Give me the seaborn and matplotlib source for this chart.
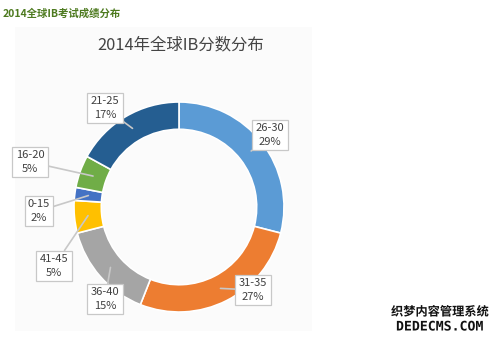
import numpy as np
import matplotlib
matplotlib.use("Agg")
import matplotlib.pyplot as plt
import matplotlib.patheffects as pe
import seaborn as sns

# ---- data ----
categories = ["26-30", "31-35", "36-40", "41-45", "0-15", "16-20", "21-25"]
percents = [29, 27, 15, 5, 2, 5, 17]
colors = ["#5B9BD5", "#ED7D31", "#A5A5A5", "#FFC000", "#4472C4", "#70AD47", "#255E91"]
page_title = "2014全球IB考试成绩分布"
chart_title = "2014年全球IB分数分布"

sns.set_theme(style="white")
plt.rcParams["font.family"] = ["Noto Sans CJK SC", "DejaVu Sans"]

W, H = 500, 338
fig = plt.figure(figsize=(W / 100, H / 100), dpi=100)
fig.patch.set_facecolor("white")

# overlay axes in pixel coordinates
ov = fig.add_axes([0, 0, 1, 1])
ov.set_xlim(0, W)
ov.set_ylim(H, 0)
ov.axis("off")
ov.add_patch(plt.Rectangle((15, 27), 297, 304, facecolor="#fbfbfb", edgecolor="none", zorder=0))

# pie axes
cx, cy, R = 179, 207, 105
pax = fig.add_axes([(cx - R) / W, (H - cy - R) / H, 2 * R / W, 2 * R / H])
wedges, _ = pax.pie(percents, colors=sns.color_palette(colors), startangle=90, counterclock=False,
                    radius=1, wedgeprops=dict(width=0.26, edgecolor="white", linewidth=1.2))
pax.set_xlim(-1, 1)
pax.set_ylim(-1, 1)
pax.axis("off")

# label box centers (pixels)
label_pos = [(270, 135), (253, 290), (105, 299), (54, 266), (39, 211), (30, 162), (105, 108)]
for w, cat, p, (lx, ly) in zip(wedges, categories, percents, label_pos):
    ang = np.deg2rad((w.theta1 + w.theta2) / 2)
    ax_, ay_ = 0.87 * np.cos(ang), 0.87 * np.sin(ang)
    pax.annotate(f"{cat}\n{p}%", xy=(ax_, ay_), xycoords="data",
                 xytext=(lx, ly), textcoords=ov.transData,
                 ha="center", va="center", fontsize=8, color="#404040", linespacing=1.45,
                 bbox=dict(boxstyle="square,pad=0.3", facecolor="white", edgecolor="#c8c8c8", linewidth=0.9),
                 arrowprops=dict(arrowstyle="-", color="#c8c8c8", linewidth=1.2, shrinkA=0, shrinkB=0),
                 annotation_clip=False)

ov.text(3, 14, page_title, fontsize=7.5, fontweight="bold", color="#4d7a1f", ha="left", va="center")
ov.text(181, 45, chart_title, fontsize=11.8, color="#444444", ha="center", va="center")

# watermark
stroke = [pe.withStroke(linewidth=2, foreground="white")]
ov.text(440, 312, "织梦内容管理系统", fontsize=8.8, fontweight="bold", color="#111111",
        ha="center", va="center", path_effects=stroke)
ov.text(440, 327, "DEDECMS.COM", fontsize=9.5, fontweight="bold", color="#111111",
        ha="center", va="center", path_effects=stroke, family="DejaVu Sans Mono")

fig.savefig("out.png", dpi=100, facecolor="white")
